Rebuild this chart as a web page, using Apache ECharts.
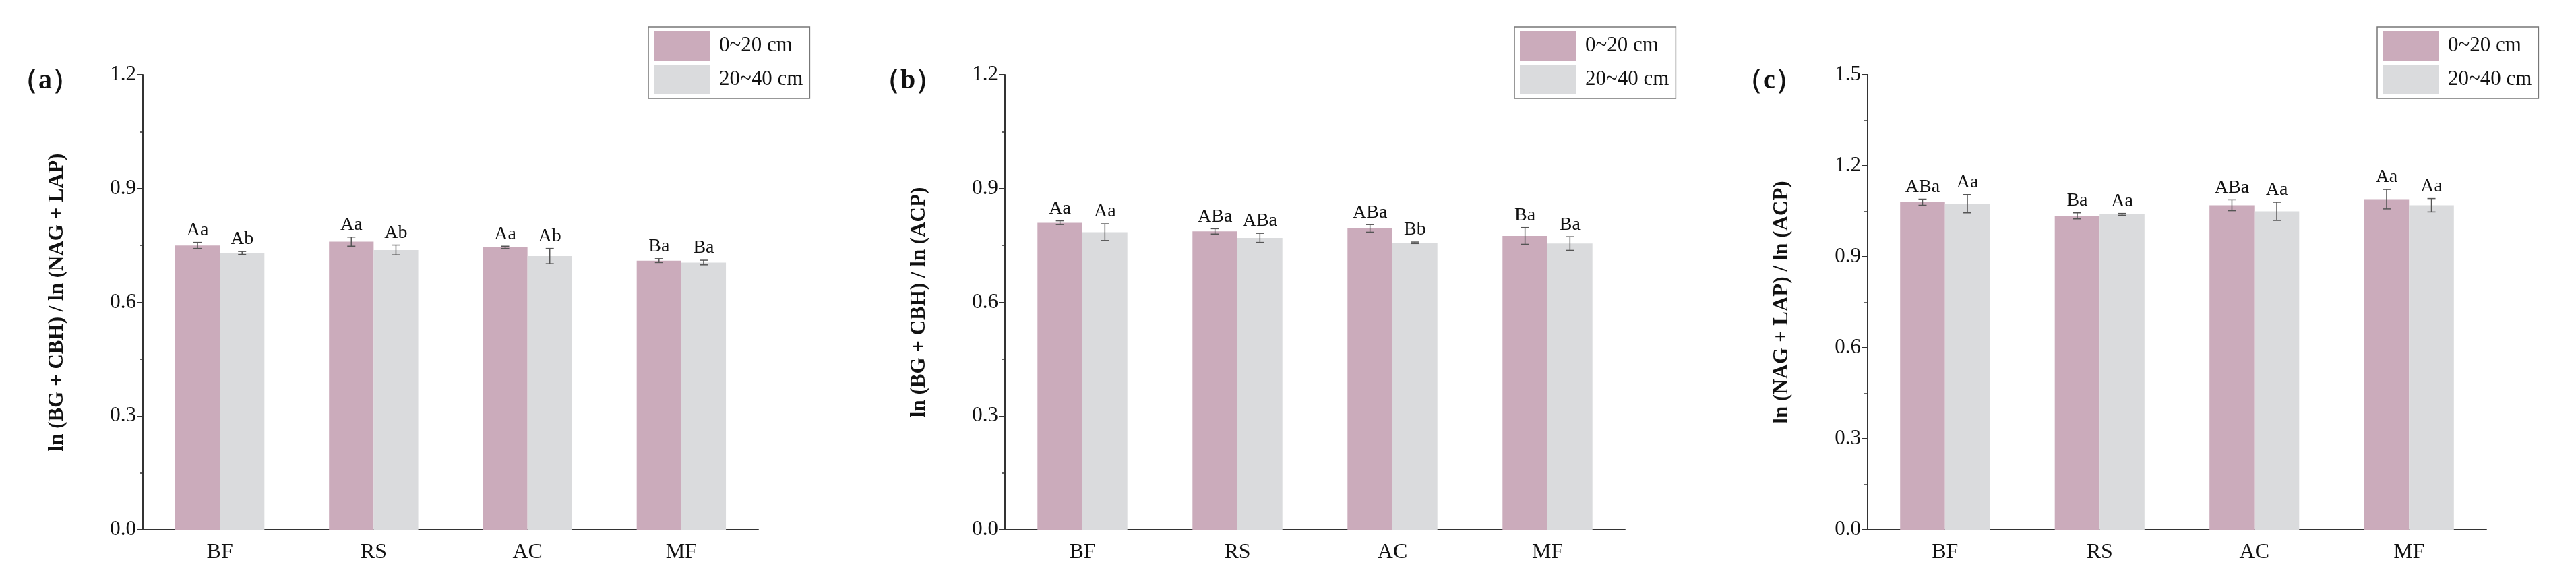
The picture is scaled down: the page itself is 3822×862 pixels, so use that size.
<!DOCTYPE html>
<html><head><meta charset="utf-8">
<script src="https://cdn.jsdelivr.net/npm/echarts@6/dist/echarts.min.js"></script>
<style>html,body{margin:0;background:#fff}#c{width:3822px;height:862px}</style>
</head><body><div id="c"></div>
<script>
const categories = ['BF','RS','AC','MF'];
const seriesNames = ['0~20 cm','20~40 cm'];
const aTop = [0.750,0.760,0.745,0.710];
const aTopErr = [0.008,0.012,0.003,0.005];
const aBot = [0.730,0.738,0.722,0.705];
const aBotErr = [0.004,0.013,0.020,0.006];
const aTopLab = ['Aa','Aa','Aa','Ba'];
const aBotLab = ['Ab','Ab','Ab','Ba'];
const bTop = [0.810,0.787,0.795,0.775];
const bTopErr = [0.005,0.007,0.010,0.022];
const bBot = [0.785,0.770,0.757,0.755];
const bBotErr = [0.022,0.012,0.002,0.018];
const bTopLab = ['Aa','ABa','ABa','Ba'];
const bBotLab = ['Aa','ABa','Bb','Ba'];
const cTop = [1.080,1.035,1.070,1.090];
const cTopErr = [0.010,0.010,0.018,0.032];
const cBot = [1.075,1.040,1.050,1.070];
const cBotErr = [0.030,0.003,0.030,0.022];
const cTopLab = ['ABa','Ba','ABa','Aa'];
const cBotLab = ['Aa','Aa','Aa','Aa'];
const panelTitles = ['（a）','（b）','（c）'];
const yTitles = ['ln (BG + CBH) / ln (NAG + LAP)','ln (BG + CBH) / ln (ACP)','ln (NAG + LAP) / ln (ACP)'];
const yMax = [1.2,1.2,1.5];
const yInterval = 0.3;

const panels = [
  {top:aTop,topErr:aTopErr,bot:aBot,botErr:aBotErr,tl:aTopLab,bl:aBotLab},
  {top:bTop,topErr:bTopErr,bot:bBot,botErr:bBotErr,tl:bTopLab,bl:bBotLab},
  {top:cTop,topErr:cTopErr,bot:cBot,botErr:cBotErr,tl:cTopLab,bl:cBotLab}
];
const lefts = [212,1491,2771];
const rights = [1125,2411,3689];
const legendLefts = [962,2247,3527];
const colors = ['#cbabbb','#dadbdd'];
const font = 'Liberation Serif, Times New Roman, serif';
const W = 3822;

const chart = echarts.init(document.getElementById('c'));
const grid=[],xAxis=[],yAxis=[],series=[],title=[],legend=[];
panels.forEach((p,i)=>{
  grid.push({left:lefts[i],width:rights[i]-lefts[i],top:111,bottom:76});
  xAxis.push({type:'category',gridIndex:i,data:categories,
    axisLine:{lineStyle:{color:'#333',width:2}},
    axisTick:{length:8,lineStyle:{color:'#333',width:2}},
    axisLabel:{fontFamily:font,fontSize:32,color:'#111',margin:18}});
  yAxis.push({type:'value',gridIndex:i,min:0,max:yMax[i],interval:yInterval,
    name:yTitles[i],nameLocation:'middle',nameGap:112,
    nameTextStyle:{fontFamily:font,fontSize:31,color:'#111',fontWeight:'bold'},
    axisLine:{show:true,lineStyle:{color:'#333',width:2}},
    axisTick:{show:true,length:9,lineStyle:{color:'#333',width:2}},
    minorTick:{show:true,splitNumber:2,length:5,lineStyle:{color:'#333',width:1.5}},
    splitLine:{show:false},
    axisLabel:{fontFamily:font,fontSize:31,color:'#111',margin:10,formatter:v=>v.toFixed(1)}});
  title.push({text:panelTitles[i],left:lefts[i]-200,top:96,
    textStyle:{fontFamily:font,fontSize:40,fontWeight:'bold',color:'#111'}});
  legend.push({left:legendLefts[i],top:40,orient:'vertical',data:seriesNames,
    itemWidth:84,itemHeight:44,itemGap:6,padding:[6,10,6,8],
    borderColor:'#777',borderWidth:1.5,
    textStyle:{fontFamily:font,fontSize:31,color:'#111',padding:[0,0,0,8]},
    icon:'rect'});
  const groups=[[p.top,p.topErr,p.tl],[p.bot,p.botErr,p.bl]];
  groups.forEach((g,k)=>{
    series.push({type:'bar',name:seriesNames[k],xAxisIndex:i,yAxisIndex:i,data:g[0],
      barWidth:'29%',barGap:'0%',itemStyle:{color:colors[k]},legendHoverLink:false});
  });
  groups.forEach((g,k)=>{
    series.push({type:'custom',xAxisIndex:i,yAxisIndex:i,silent:true,z:5,
      data:g[0].map((v,j)=>[j,v,g[1][j]]),
      renderItem:(params,api)=>{
        const j=api.value(0),v=api.value(1),e=api.value(2);
        const bw=api.size([1,0])[0]*0.29;
        const cx=api.coord([j,0])[0]+(k===0?-bw/2:bw/2);
        const hi=api.coord([j,v+e])[1], lo=api.coord([j,v-e])[1];
        const ls={stroke:'#555',lineWidth:1.5};
        return {type:'group',children:[
          {type:'line',shape:{x1:cx,y1:hi,x2:cx,y2:lo},style:ls},
          {type:'line',shape:{x1:cx-6,y1:hi,x2:cx+6,y2:hi},style:ls},
          {type:'line',shape:{x1:cx-6,y1:lo,x2:cx+6,y2:lo},style:ls},
          {type:'text',style:{text:g[2][j],x:cx,y:hi-4,align:'center',verticalAlign:'bottom',
            font:'28px '+font,fill:'#111'}}
        ]};
      }});
  });
});
chart.setOption({animation:false,grid,xAxis,yAxis,series,title,legend});
</script></body></html>
